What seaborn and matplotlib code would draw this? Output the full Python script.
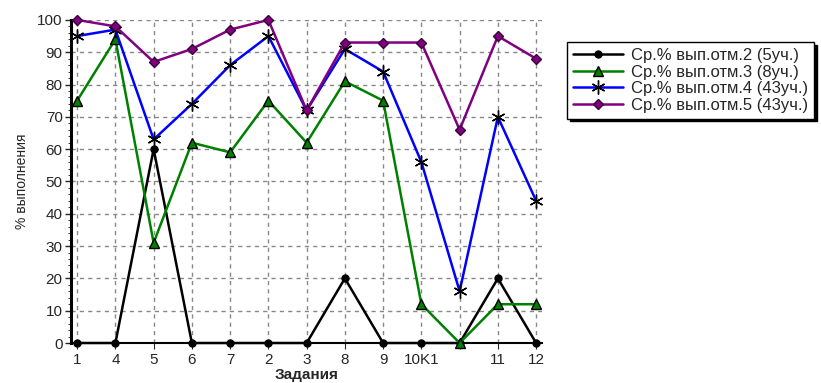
import matplotlib
matplotlib.use("Agg")
import matplotlib.pyplot as plt
import pandas as pd
import seaborn as sns
from matplotlib.ticker import MultipleLocator

tasks = ["1", "4", "5", "6", "7", "2", "3", "8", "9", "10K1", "", "11", "12"]
otm2 = [0, 0, 60, 0, 0, 0, 0, 20, 0, 0, 0, 20, 0]
otm3 = [75, 94, 31, 62, 59, 75, 62, 81, 75, 12, 0, 12, 12]
otm4 = [95, 97, 63, 74, 86, 95, 72, 91, 84, 56, 16, 70, 44]
otm5 = [100, 98, 87, 91, 97, 100, 72, 93, 93, 93, 66, 95, 88]

labels = [
    "Ср.% вып.отм.2 (5уч.)",
    "Ср.% вып.отм.3 (8уч.)",
    "Ср.% вып.отм.4 (43уч.)",
    "Ср.% вып.отм.5 (43уч.)",
]
colors = ["black", "#008000", "#0000ff", "#800080"]
markers = ["o", "^", (6, 2, 0), "D"]
msizes = [5, 7, 10, 5.5]
medge = ["black", "black", "black", "#3a003a"]

sns.set_style("white")
plt.rcParams["font.family"] = ["Liberation Sans", "DejaVu Sans"]
plt.rcParams["font.size"] = 10

fig = plt.figure(figsize=(8.21, 3.83), dpi=100)
ax = fig.add_axes([0.0865, 0.1044, 0.5735, 0.8436])

pos = list(range(len(tasks)))
for vals, lab, c, m, ms, me in zip([otm2, otm3, otm4, otm5], labels, colors, markers, msizes, medge):
    df = pd.DataFrame({"x": pos, "y": vals})
    sns.lineplot(data=df, x="x", y="y", ax=ax, color=c, marker=m, markersize=ms,
                 markeredgecolor=me, markerfacecolor=c if m != (6, 2, 0) else "black",
                 markeredgewidth=1.0, linewidth=1.8, label=lab, clip_on=False, zorder=3)

ax.set_xlim(-0.16, 12.15)
ax.set_ylim(0, 100)
ax.set_xticks(pos)
ax.set_xticklabels(tasks, fontsize=11)
ax.yaxis.set_major_locator(MultipleLocator(10))
ax.yaxis.set_minor_locator(MultipleLocator(2))
ax.tick_params(axis="y", labelsize=11, direction="out", length=4, width=1, left=True, pad=2)
ax.tick_params(axis="y", which="minor", direction="out", length=2, left=True)
ax.tick_params(axis="x", direction="out", length=4, bottom=True, pad=3)
ax.grid(True, color="#888888", linestyle=(0, (3, 3)), linewidth=1)
ax.set_axisbelow(True)
for s in ["top", "right"]:
    ax.spines[s].set_visible(False)
ax.spines["left"].set_linewidth(2.2)
ax.spines["left"].set_color("black")
ax.spines["bottom"].set_linewidth(1.5)
ax.spines["bottom"].set_color("black")

ax.set_xlabel("Задания", fontsize=11, fontweight="bold", labelpad=1)
ax.set_ylabel("% выполнения", fontsize=10, labelpad=6)

leg = ax.legend(loc="upper left", bbox_to_anchor=(567 / 821, 1 - 42 / 383),
                bbox_transform=fig.transFigure, frameon=True, fancybox=False,
                edgecolor="black", shadow={"color": "black", "alpha": 1.0},
                fontsize=12, handlelength=3.0, handletextpad=0.5,
                labelspacing=0.1, borderpad=0.35, numpoints=1, borderaxespad=0)
leg.get_frame().set_linewidth(1)

fig.savefig("out.png", dpi=100)
